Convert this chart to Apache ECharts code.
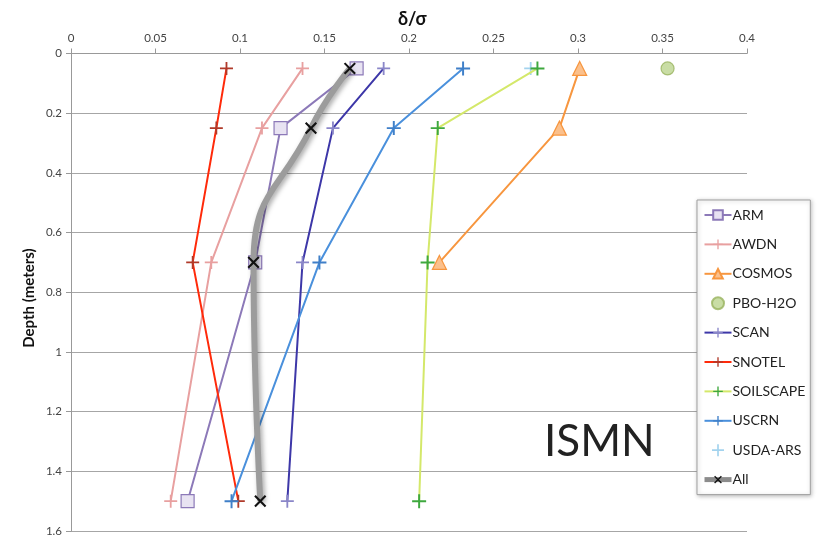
<!DOCTYPE html>
<html><head><meta charset="utf-8">
<script src="https://cdn.jsdelivr.net/npm/echarts@6/dist/echarts.min.js"></script>
<style>html,body{margin:0;padding:0;background:#fff}#c{width:817px;height:540px}</style>
</head><body><div id="c"></div>
<script>
const depths = [0.05, 0.25, 0.70, 1.50];
const xTicks = [0, 0.05, 0.1, 0.15, 0.2, 0.25, 0.3, 0.35, 0.4];
const yTicks = [0, 0.2, 0.4, 0.6, 0.8, 1, 1.2, 1.4, 1.6];
const ARM = [0.169, 0.124, 0.109, 0.069];
const AWDN = [0.137, 0.113, 0.083, 0.059];
const COSMOS = [0.301, 0.289, 0.218];
const PBO_H2O = [0.353];
const SCAN = [0.185, 0.155, 0.137, 0.128];
const SNOTEL = [0.092, 0.086, 0.072, 0.099];
const SOILSCAPE = [0.276, 0.217, 0.211, 0.206];
const USCRN = [0.232, 0.191, 0.147, 0.095];
const USDA_ARS = [0.272];
const ALL = [0.165, 0.142, 0.108, 0.112];

const PLUS = 'path://M4.3,0h1.4v10h-1.4zM0,4.3h10v1.4h-10z';
const pairs = v => v.map((x, i) => [x, depths[i]]);
const font = 'Lato, "Open Sans", sans-serif';

function lineSeries(name, vals, color, symbol, size, fill, extra) {
  return Object.assign({
    name, type: 'line', data: pairs(vals),
    symbol, symbolSize: size,
    lineStyle: { color, width: 2 },
    itemStyle: { color: fill || color, borderColor: color, borderWidth: fill ? 1.2 : 0 },
    emphasis: { disabled: true }, z: 3
  }, extra || {});
}

const series = [
  lineSeries('ARM', ARM, '#8c79b8', 'rect', 13, '#e8e3f2'),
  lineSeries('AWDN', AWDN, '#e8a0a0', PLUS, 13),
  lineSeries('COSMOS', COSMOS, '#f7963f', 'triangle', 14, '#fbc08c'),
  { name: 'PBO-H2O', type: 'scatter', data: pairs(PBO_H2O), symbol: 'circle', symbolSize: 13,
    itemStyle: { color: '#bcd58f', borderColor: '#98b35e', borderWidth: 1.2 }, emphasis: { disabled: true } },
  lineSeries('SCAN', SCAN, '#3d37a8', PLUS, 13, null, { itemStyle: { color: '#8a86c8' } }),
  lineSeries('SNOTEL', SNOTEL, '#ff2a0a', PLUS, 13, null, { itemStyle: { color: '#b03a2a' } }),
  lineSeries('SOILSCAPE', SOILSCAPE, '#d4e86a', PLUS, 14, null, { itemStyle: { color: '#3ea83e' } }),
  lineSeries('USCRN', USCRN, '#4a90dc', PLUS, 14, null, { itemStyle: { color: '#3f7fc8' } }),
  { name: 'USDA-ARS', type: 'scatter', data: pairs(USDA_ARS), symbol: PLUS, symbolSize: 13,
    itemStyle: { color: '#8cc8ea' }, emphasis: { disabled: true } },
  { name: 'All', type: 'line', data: pairs(ALL), smooth: 0.5, symbol: PLUS, symbolRotate: 45, symbolSize: 15,
    lineStyle: { color: '#9c9c9c', width: 6, shadowBlur: 5, shadowColor: 'rgba(0,0,0,0.35)', shadowOffsetX: 2, shadowOffsetY: 2 },
    itemStyle: { color: '#111' }, emphasis: { disabled: true }, z: 4 }
];

const legendData = series.map(s => s.name === 'All'
  ? { name: 'All', lineStyle: { width: 5, color: '#8c8c8c' } }
  : { name: s.name });

const chart = echarts.init(document.getElementById('c'), null, { renderer: 'canvas' });
chart.setOption({
  animation: false,
  backgroundColor: '#fff',
  textStyle: { fontFamily: font },
  grid: { left: 71, right: 70, top: 53.5, bottom: 9 },
  title: { text: 'δ/σ', left: 393, top: 5, textStyle: { fontFamily: font, fontSize: 18, fontWeight: 'bold', color: '#111' } },
  xAxis: {
    type: 'value', position: 'top', min: xTicks[0], max: xTicks[xTicks.length - 1], interval: 0.05,
    axisLine: { show: true, lineStyle: { color: '#999' } },
    axisTick: { show: true, length: 5, lineStyle: { color: '#999' } },
    axisLabel: { color: '#444', fontSize: 11.5, margin: 9, formatter: v => String(+v.toFixed(2)) },
    splitLine: { show: false }
  },
  yAxis: {
    type: 'value', inverse: true, min: yTicks[0], max: yTicks[yTicks.length - 1], interval: 0.2,
    axisLine: { show: true, lineStyle: { color: '#999' } },
    axisTick: { show: true, length: 5, lineStyle: { color: '#999' } },
    axisLabel: { color: '#444', fontSize: 11.5, margin: 9, formatter: v => String(+v.toFixed(1)) },
    splitLine: { show: true, lineStyle: { color: '#a6a6a6', width: 1 } }
  },
  legend: {
    orient: 'vertical', left: 697, top: 200,
    padding: [8, 5, 8, 5], itemGap: 15.4, itemWidth: 27, itemHeight: 12,
    backgroundColor: '#fff', borderColor: '#a0a0a0', borderWidth: 1,
    shadowBlur: 4, shadowColor: 'rgba(0,0,0,0.25)', shadowOffsetX: 1, shadowOffsetY: 1,
    textStyle: { fontFamily: font, fontSize: 14, color: '#222', padding: [0, 0, 0, -4] },
    data: legendData
  },
  graphic: [
    { type: 'text', left: 544, top: 420, style: { text: 'ISMN', font: '44px ' + font, fill: '#222' } },
    { type: 'text', x: 29, y: 298, rotation: Math.PI / 2,
      style: { text: 'Depth (meters)', font: 'bold 15px ' + font, fill: '#111', align: 'center', verticalAlign: 'middle' } }
  ],
  series
});
</script></body></html>
